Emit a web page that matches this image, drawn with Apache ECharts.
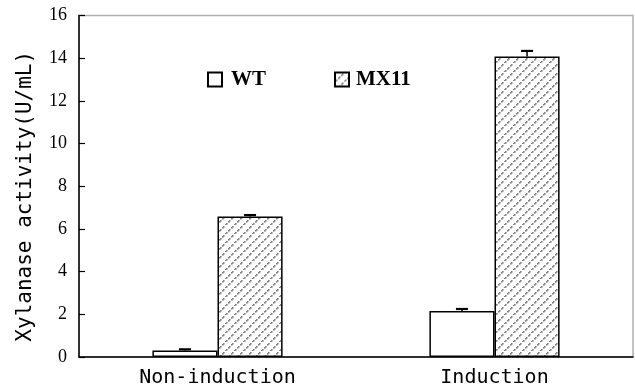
<!DOCTYPE html>
<html>
<head>
<meta charset="utf-8">
<script src="https://cdn.jsdelivr.net/npm/echarts@6/dist/echarts.min.js"></script>
<style>html,body{margin:0;padding:0;background:#fff}#c{width:635px;height:389px}</style>
</head>
<body>
<div id="c"></div>
<script>
var categories = ['Non-induction', 'Induction'];
var wtValues = [0.30, 2.15];
var wtErrors = [0.06, 0.10];
var mxValues = [6.58, 14.08];
var mxErrors = [0.07, 0.26];
var yTicks = [0, 2, 4, 6, 8, 10, 12, 14, 16];

function hatch() {
  var n = 9;
  var c = document.createElement('canvas');
  c.width = n; c.height = n;
  var g = c.getContext('2d');
  g.fillStyle = '#fff'; g.fillRect(0, 0, n, n);
  g.fillStyle = '#808080';
  for (var i = 0; i < n; i++) {
    if (i % 3 !== 2) g.fillRect(i, n - 1 - i, 1.6, 1.6);
  }
  return c;
}
var pat = { image: hatch(), repeat: 'repeat' };
var BW = 0.235;

function errSeries(vals, errs, side) {
  return {
    type: 'custom',
    z: 5,
    silent: true,
    data: vals.map(function (v, i) { return [i, v, errs[i]]; }),
    renderItem: function (params, api) {
      var i = api.value(0), v = api.value(1), e = api.value(2);
      var band = api.size([1, 0])[0];
      var base = api.coord([i, v]);
      var top = api.coord([i, v + e]);
      var x = base[0] + side * band * BW / 2;
      var hw = 6;
      return {
        type: 'group',
        children: [
          { type: 'line', shape: { x1: x, y1: base[1], x2: x, y2: top[1] }, style: { stroke: '#000', lineWidth: 1.5 } },
          { type: 'line', shape: { x1: x - hw, y1: top[1], x2: x + hw, y2: top[1] }, style: { stroke: '#000', lineWidth: 2.2 } }
        ]
      };
    }
  };
}

var chart = echarts.init(document.getElementById('c'));
chart.setOption({
  animation: false,
  backgroundColor: '#fff',
  grid: { left: 79, right: 2, top: 15.5, bottom: 32, show: true, borderColor: '#b0b0b0', borderWidth: 1.5, backgroundColor: 'transparent' },
  legend: [
    { data: ['WT'], left: 207, top: 69, padding: 0, itemWidth: 14, itemHeight: 14, icon: 'rect',
      textStyle: { fontFamily: 'Liberation Serif', fontWeight: 'bold', fontSize: 21, color: '#000', padding: [0, 0, 0, 4] } },
    { data: ['MX11'], left: 334, top: 69, padding: 0, itemWidth: 14, itemHeight: 14, icon: 'rect',
      textStyle: { fontFamily: 'Liberation Serif', fontWeight: 'bold', fontSize: 21, color: '#000', padding: [0, 0, 0, 2] } }
  ],
  xAxis: {
    type: 'category',
    data: categories,
    axisLine: { lineStyle: { color: '#000', width: 1.5 } },
    axisTick: { inside: true, length: 6, lineStyle: { color: '#000', width: 1.5 } },
    axisLabel: { fontFamily: 'DejaVu Sans Mono', fontSize: 20, color: '#000', margin: 11 }
  },
  yAxis: {
    type: 'value',
    min: yTicks[0], max: yTicks[yTicks.length - 1], interval: 2,
    name: 'Xylanase activity(U/mL)',
    nameLocation: 'middle',
    nameGap: 43,
    nameTextStyle: { fontFamily: 'DejaVu Sans Mono', fontSize: 21, color: '#000', padding: [0, 20, 0, 0] },
    axisLine: { show: true, lineStyle: { color: '#000', width: 1.5 } },
    axisTick: { show: true, inside: true, length: 6, lineStyle: { color: '#000', width: 1.2 } },
    axisLabel: { fontFamily: 'Liberation Serif', fontSize: 18, color: '#000', margin: 12 },
    splitLine: { show: false }
  },
  series: [
    { name: 'WT', type: 'bar', data: wtValues, barWidth: (BW * 100) + '%', barGap: '0%',
      itemStyle: { color: '#fff', borderColor: '#000', borderWidth: 1.5 } },
    { name: 'MX11', type: 'bar', data: mxValues, barWidth: (BW * 100) + '%', barGap: '0%',
      itemStyle: { color: pat, borderColor: '#000', borderWidth: 1.5 } },
    errSeries(wtValues, wtErrors, -1),
    errSeries(mxValues, mxErrors, 1)
  ]
});
</script>
</body>
</html>
